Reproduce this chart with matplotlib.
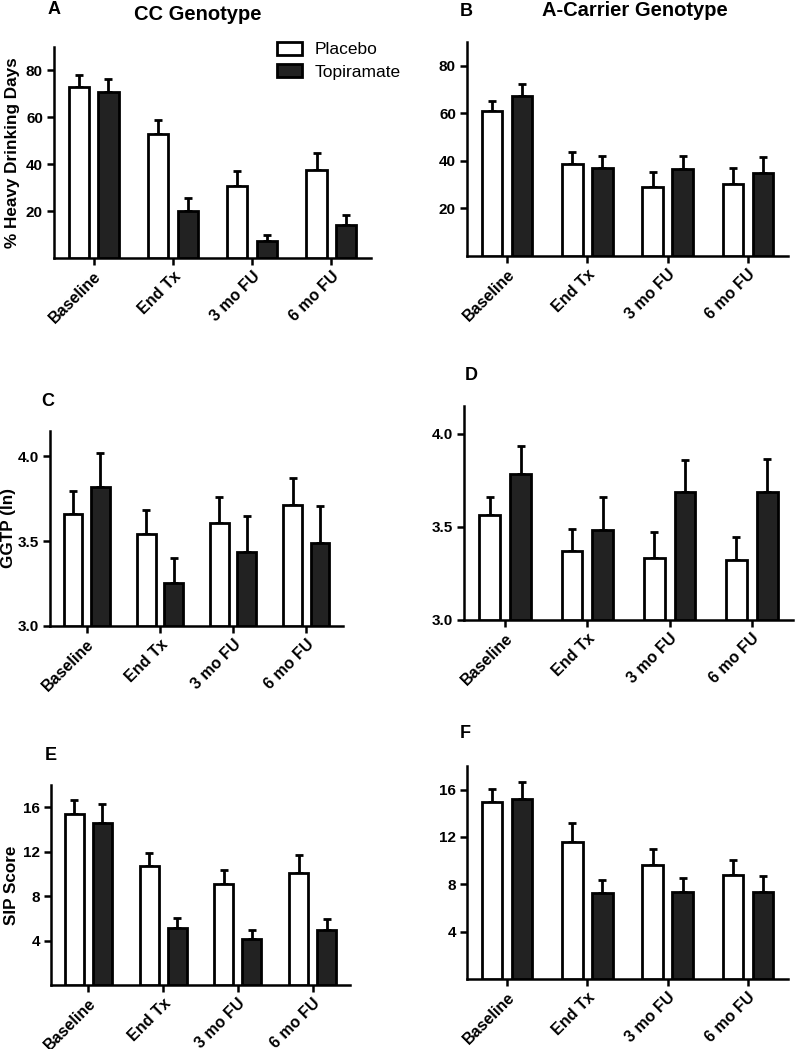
import numpy as np
from matplotlib import pyplot as plt

plt.rcParams["font.family"] = ["Liberation Sans", "DejaVu Sans"]
plt.rcParams["font.weight"] = "bold"

categories = ["Baseline", "End Tx", "3 mo FU", "6 mo FU"]
groups = ["Placebo", "Topiramate"]

# % heavy drinking days
hdd_cc_placebo = [72.9, 52.7, 30.9, 37.6]
hdd_cc_placebo_err = [5.0, 6.2, 6.4, 7.3]
hdd_cc_topi = [70.9, 20.1, 7.3, 13.9]
hdd_cc_topi_err = [5.4, 5.6, 2.3, 4.3]
hdd_a_placebo = [61.0, 38.9, 29.2, 30.2]
hdd_a_placebo_err = [4.3, 5.0, 6.0, 6.7]
hdd_a_topi = [67.3, 37.2, 36.5, 34.8]
hdd_a_topi_err = [4.9, 4.8, 5.7, 6.7]

# GGTP (ln)
ggt_cc_placebo = [3.659, 3.541, 3.608, 3.711]
ggt_cc_placebo_err = [0.14, 0.142, 0.154, 0.16]
ggt_cc_topi = [3.819, 3.256, 3.437, 3.490]
ggt_cc_topi_err = [0.20, 0.144, 0.21, 0.215]
ggt_a_placebo = [3.562, 3.373, 3.332, 3.321]
ggt_a_placebo_err = [0.10, 0.115, 0.14, 0.126]
ggt_a_topi = [3.785, 3.485, 3.689, 3.689]
ggt_a_topi_err = [0.152, 0.176, 0.172, 0.175]

# SIP score
sip_cc_placebo = [15.42, 10.74, 9.12, 10.08]
sip_cc_placebo_err = [1.2, 1.17, 1.26, 1.62]
sip_cc_topi = [14.55, 5.13, 4.11, 4.92]
sip_cc_topi_err = [1.74, 0.87, 0.84, 1.02]
sip_a_placebo = [14.97, 11.61, 9.6, 8.82]
sip_a_placebo_err = [1.12, 1.54, 1.4, 1.23]
sip_a_topi = [15.17, 7.29, 7.39, 7.32]
sip_a_topi_err = [1.51, 1.04, 1.15, 1.4]

W, H = 795, 1049
fig = plt.figure(figsize=(W / 100, H / 100), dpi=100)

def px_axes(left, top, right, bottom):
    return fig.add_axes([left / W, 1 - bottom / H, (right - left) / W, (bottom - top) / H])

DARK = "#222222"
x = np.arange(len(categories))
off, bw = 0.187, 0.255

def panel(ax, pl, pl_err, tp, tp_err, ylim, yticks, fmt):
    zeros = [0] * len(x)
    ax.bar(x - off, np.array(pl) - ylim[0], bw, bottom=ylim[0], color="white",
           edgecolor="black", linewidth=2.0, zorder=3, label=groups[0])
    ax.bar(x + off, np.array(tp) - ylim[0], bw, bottom=ylim[0], color=DARK,
           edgecolor="black", linewidth=2.0, zorder=3, label=groups[1])
    ax.errorbar(x - off, pl, yerr=[zeros, pl_err], fmt="none", ecolor="black",
                elinewidth=2.0, capsize=3, capthick=2.0, zorder=2)
    ax.errorbar(x + off, tp, yerr=[zeros, tp_err], fmt="none", ecolor="black",
                elinewidth=2.0, capsize=3, capthick=2.0, zorder=2)
    ax.set_xlim(-0.5, 3.5)
    ax.set_ylim(*ylim)
    ax.set_yticks(yticks)
    ax.set_yticklabels([fmt % t for t in yticks], fontsize=11, fontweight="bold")
    ax.set_xticks(x)
    ax.set_xticklabels(categories, rotation=45, ha="right", rotation_mode="anchor",
                       fontsize=11.5, fontweight="bold")
    for s in ["top", "right"]:
        ax.spines[s].set_visible(False)
    for s in ["left", "bottom"]:
        ax.spines[s].set_linewidth(1.8)
    ax.tick_params(axis="both", direction="out", length=5, width=1.8, pad=3)

axA = px_axes(54, 47, 371, 258)
axB = px_axes(467, 42, 788, 256)
axC = px_axes(50, 431, 343, 626)
axD = px_axes(464, 406, 793, 620)
axE = px_axes(51, 785, 350, 985)
axF = px_axes(467, 766, 788, 979)

panel(axA, hdd_cc_placebo, hdd_cc_placebo_err, hdd_cc_topi, hdd_cc_topi_err,
      (0, 90), [20, 40, 60, 80], "%d")
panel(axB, hdd_a_placebo, hdd_a_placebo_err, hdd_a_topi, hdd_a_topi_err,
      (0, 90), [20, 40, 60, 80], "%d")
panel(axC, ggt_cc_placebo, ggt_cc_placebo_err, ggt_cc_topi, ggt_cc_topi_err,
      (3.0, 4.15), [3.0, 3.5, 4.0], "%.1f")
panel(axD, ggt_a_placebo, ggt_a_placebo_err, ggt_a_topi, ggt_a_topi_err,
      (3.0, 4.15), [3.0, 3.5, 4.0], "%.1f")
panel(axE, sip_cc_placebo, sip_cc_placebo_err, sip_cc_topi, sip_cc_topi_err,
      (0, 18), [4, 8, 12, 16], "%d")
panel(axF, sip_a_placebo, sip_a_placebo_err, sip_a_topi, sip_a_topi_err,
      (0, 18), [4, 8, 12, 16], "%d")

axA.legend(loc="upper left", bbox_to_anchor=(277 / W, 1 - 42 / H),
           bbox_transform=fig.transFigure, frameon=False, borderpad=0,
           borderaxespad=0, prop={"size": 12.5, "weight": "normal"},
           handlelength=1.45, handleheight=0.75, labelspacing=0.4,
           handletextpad=0.7)

def ftext(px, py, s, size, ha="left", rot=0):
    fig.text(px / W, 1 - py / H, s, fontsize=size, fontweight="bold", ha=ha,
             va="center", rotation=rot)

ftext(48, 10, "A", 13)
ftext(198, 15, "CC Genotype", 14.5, ha="center")
ftext(460, 11, "B", 13)
ftext(635, 10, "A-Carrier Genotype", 14.5, ha="center")
ftext(41, 401, "C", 13)
ftext(465, 375, "D", 13)
ftext(45, 756, "E", 13)
ftext(460, 734, "F", 13)

# y axis titles
ftext(13, 153, "% Heavy Drinking Days", 12.3, ha="center", rot=90)
ftext(9, 528, "GGTP (ln)", 12.3, ha="center", rot=90)
ftext(12, 885, "SIP Score", 12.3, ha="center", rot=90)

fig.savefig("out.png", dpi=100)
